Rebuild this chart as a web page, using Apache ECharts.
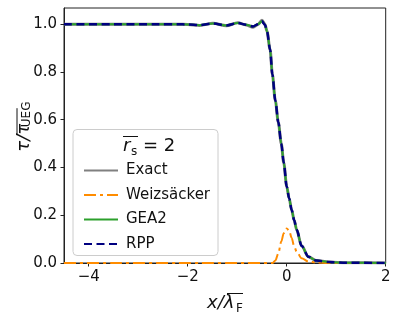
<!DOCTYPE html>
<html>
<head>
<meta charset="utf-8">
<script src="https://cdn.jsdelivr.net/npm/echarts@6/dist/echarts.min.js"></script>
<style>
  html, body { margin: 0; padding: 0; background: #fff; }
  #chart { width: 399px; height: 323px; }
</style>
</head>
<body>
<div id="chart"></div>
<script>
// x / lambda_F grid
const xs = [-4.5, -3.5, -2.6, -2.2, -2.0, -1.76, -1.49, -1.22, -0.99, -0.82, -0.68, -0.58, -0.5, -0.44, -0.4, -0.335, -0.29, -0.23, -0.17, -0.11, -0.06, 0.0, 0.05, 0.1, 0.15, 0.2, 0.3, 0.44, 0.6, 0.85, 1.2, 2.0]

const exactVals = [1.0, 1.0, 1.0, 1.0, 0.999, 0.995, 1.004, 0.994, 1.006, 0.997, 0.987, 0.999, 1.017, 1.0, 0.972, 0.893, 0.79, 0.68, 0.59, 0.5, 0.42, 0.32, 0.27, 0.222, 0.18, 0.14, 0.072, 0.026, 0.01, 0.004, 0.001, 0.0]
const weizVals = [0, 0, 0, 0, 0, 0, 0, 0, 0, 0, 0, 0, 0, 0, 0, 0, 0.0, 0.01, 0.04, 0.09, 0.125, 0.145, 0.135, 0.105, 0.07, 0.048, 0.02, 0.006, 0.002, 0, 0, 0]
const gea2Vals = [1.0, 1.0, 1.0, 1.0, 0.999, 0.996, 1.003, 0.995, 1.005, 0.998, 0.991, 1.0, 1.012, 0.998, 0.972, 0.893, 0.79, 0.68, 0.59, 0.5, 0.42, 0.32, 0.27, 0.222, 0.18, 0.14, 0.072, 0.026, 0.01, 0.004, 0.001, 0.0]
const rppVals = [1.0, 1.0, 1.0, 1.0, 0.999, 0.996, 1.003, 0.995, 1.005, 0.998, 0.991, 1.0, 1.012, 0.998, 0.972, 0.893, 0.79, 0.68, 0.59, 0.5, 0.42, 0.32, 0.27, 0.222, 0.18, 0.14, 0.072, 0.026, 0.01, 0.004, 0.001, 0.0]

const xTicks = [-4, -2, 0, 2]
const yTicks = [0, 0.2, 0.4, 0.6, 0.8, 1.0]
const legendNames = ['Exact', 'Weizsäcker', 'GEA2', 'RPP']

const font = 'DejaVu Sans'
const axisColor = '#222'

function pairs(vals) {
  return xs.map((x, i) => [x, vals[i]])
}

function lineSeries(name, vals, color, width, type) {
  return {
    name: name,
    type: 'line',
    data: pairs(vals),
    showSymbol: false,
    symbol: 'none',
    smooth: 0.3,
    smoothMonotone: 'x',
    animation: false,
    lineStyle: { color: color, width: width, type: type },
    itemStyle: { color: color }
  }
}

const chart = echarts.init(document.getElementById('chart'))

chart.setOption({
  grid: {
    left: 64, right: 13.3, top: 8, bottom: 60,
    show: true,
    borderColor: axisColor,
    borderWidth: 1
  },
  legend: {
    data: legendNames,
    orient: 'vertical',
    left: 78,
    top: 158,
    itemWidth: 34,
    itemHeight: 14,
    itemGap: 9.5,
    // only the line sample, no marker
    itemStyle: { opacity: 0 },
    textStyle: { fontFamily: font, fontSize: 15, color: '#111', lineHeight: 14, padding: [0, 0, 0, 3] }
  },
  xAxis: {
    type: 'value',
    min: -4.5,
    max: 2,
    splitLine: { show: false },
    axisLine: { onZero: false, lineStyle: { color: axisColor } },
    axisTick: { length: 3.5, lineStyle: { color: axisColor }, customValues: xTicks },
    axisLabel: {
      customValues: xTicks,
      margin: 7,
      fontFamily: font, fontSize: 15, color: '#111',
      formatter: v => v < 0 ? '\u2212' + (-v) : String(v)
    }
  },
  yAxis: {
    type: 'value',
    min: 0,
    max: 1.068,
    splitLine: { show: false },
    axisLine: { show: true, onZero: false, lineStyle: { color: axisColor } },
    axisTick: { show: true, length: 3.5, lineStyle: { color: axisColor }, customValues: yTicks },
    axisLabel: {
      customValues: yTicks,
      margin: 7,
      fontFamily: font, fontSize: 15, color: '#111',
      formatter: v => v.toFixed(1)
    }
  },
  series: [
    lineSeries(legendNames[0], exactVals, '#808080', 3, 'solid'),
    lineSeries(legendNames[1], weizVals, '#ff8c00', 2, [12, 4, 3, 4]),
    lineSeries(legendNames[2], gea2Vals, '#2ca02c', 2, 'solid'),
    lineSeries(legendNames[3], rppVals, '#000080', 2.5, [8, 4.5])
  ],
  graphic: [
    // legend frame
    {
      type: 'rect', z: 3,
      shape: { x: 73, y: 129.5, width: 145, height: 126, r: 4 },
      style: { fill: 'rgba(255,255,255,0.8)', stroke: '#cccccc', lineWidth: 1 }
    },
    // legend title: r_s (with bar) = 2
    { type: 'text', z: 5, x: 123, y: 155, style: { text: 'r', font: 'italic 18px "DejaVu Sans"', fill: '#111', verticalAlign: 'bottom' } },
    { type: 'text', z: 5, x: 131, y: 158, style: { text: 's', font: '12px "DejaVu Sans"', fill: '#111', verticalAlign: 'bottom' } },
    { type: 'text', z: 5, x: 143, y: 155, style: { text: '= 2', font: '18px "DejaVu Sans"', fill: '#111', verticalAlign: 'bottom' } },
    { type: 'line', z: 5, shape: { x1: 123, y1: 136.5, x2: 138, y2: 136.5 }, style: { stroke: '#111', lineWidth: 1 } },
    // x axis name
    { type: 'text', x: 207, y: 312, style: { text: 'x/λ', font: 'italic 18px "DejaVu Sans"', fill: '#111', verticalAlign: 'bottom' } },
    { type: 'text', x: 236, y: 315, style: { text: 'F', font: '12px "DejaVu Sans"', fill: '#111', verticalAlign: 'bottom' } },
    { type: 'line', shape: { x1: 227, y1: 293.5, x2: 243, y2: 293.5 }, style: { stroke: '#111', lineWidth: 1 } },
    // y axis name, rotated
    {
      type: 'group', x: 24, y: 151.7, rotation: Math.PI / 2,
      children: [
        { type: 'text', x: 0, y: 0, style: { text: 'τ/τ', font: 'italic 18px "DejaVu Sans"', fill: '#111', verticalAlign: 'middle' } },
        { type: 'text', x: 24.5, y: 3, style: { text: 'UEG', font: '12px "DejaVu Sans"', fill: '#111', verticalAlign: 'middle' } },
        { type: 'line', shape: { x1: 16.5, y1: -7, x2: 43.5, y2: -7 }, style: { stroke: '#111', lineWidth: 1 } }
      ]
    }
  ]
})
</script>
</body>
</html>
